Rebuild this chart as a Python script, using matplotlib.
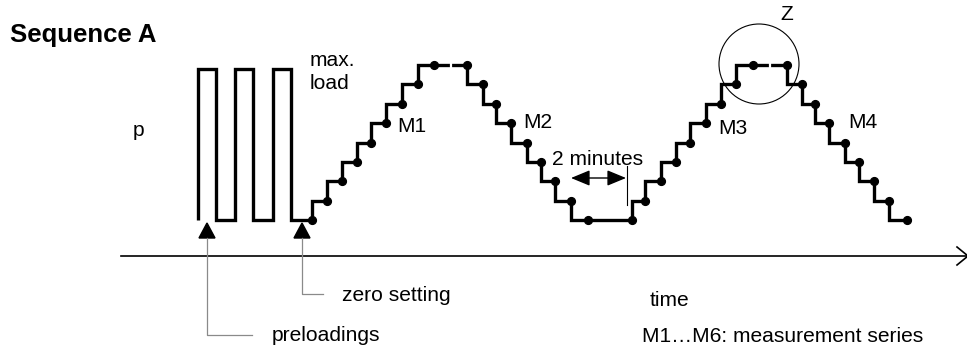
import matplotlib
matplotlib.use("Agg")
import matplotlib.pyplot as plt
from matplotlib.patches import Circle, Polygon

plt.rcParams['font.family'] = ['Liberation Sans', 'DejaVu Sans']

# ---------------- data (time in arbitrary units, load p in load steps) -------------
preload_times = [198, 198, 216, 216, 235, 235, 253, 253, 273, 273, 291, 291, 312]
preload_levels = [0, 7.8, 7.8, 0, 0, 7.8, 7.8, 0, 0, 7.8, 7.8, 0, 0]

meas_times = [312, 327, 342, 357, 371, 386, 402, 418, 434, 467,
              483, 496, 511, 527, 541, 555, 571, 588, 632,
              645, 661, 676, 690, 706, 721, 736, 753, 787,
              802, 815, 829, 845, 859, 874, 889, 907]
meas_levels = [0, 1, 2, 3, 4, 5, 6, 7, 8, 8,
               7, 6, 5, 4, 3, 2, 1, 0, 0,
               1, 2, 3, 4, 5, 6, 7, 8, 8,
               7, 6, 5, 4, 3, 2, 1, 0]

series_labels = ["M1", "M2", "M3", "M4"]

W, H = 967, 348
fig = plt.figure(figsize=(W / 100, H / 100), dpi=100)

# data axes: time vs load level
ax = fig.add_axes([0, 0, 1, 1])
ax.set_xlim(0, W)
y0_px, step_px = 220.0, 19.375
ax.set_ylim((y0_px - H) / step_px, y0_px / step_px)
ax.axis('off')

# decoration axes in pixel coordinates
deco = fig.add_axes([0, 0, 1, 1], facecolor='none')
deco.set_xlim(0, W)
deco.set_ylim(H, 0)
deco.axis('off')

lw_thick = 2.4
ax.plot(preload_times, preload_levels, color='black', lw=lw_thick,
        solid_joinstyle='miter', solid_capstyle='butt')
ax.plot(meas_times, meas_levels, drawstyle='steps-pre', color='black',
        lw=lw_thick, solid_joinstyle='miter', solid_capstyle='butt')
ax.plot(meas_times, meas_levels, 'o', color='black', markersize=5.6, zorder=5)

# small gaps in plateaus
for gx, gy in [(451, 66), (770, 65)]:
    deco.plot([gx, gx], [gy - 3, gy + 3], color='white', lw=1.6, zorder=10)

# time axis
deco.plot([121, 967], [256, 256], color='black', lw=1.2)
deco.plot([957, 968, 957], [247, 256, 265], color='black', lw=1.2)

# Z circle
deco.add_patch(Circle((759, 64), 40, fill=False, color='black', lw=0.8))

# 2 minutes arrow
deco.annotate('', xy=(571, 178), xytext=(626, 178),
              arrowprops=dict(arrowstyle='<|-|>,head_length=0.58,head_width=0.24',
                              color='black', lw=1.0,
                              mutation_scale=20, shrinkA=0, shrinkB=0))
deco.plot([627, 627], [166, 205], color='black', lw=0.8)

# leader arrows
lead_col = '#8a8a8a'
for tip_x, end_y, end_x in [(207, 335, 252), (302, 294, 323)]:
    deco.add_patch(Polygon([(tip_x, 223), (tip_x - 8, 238), (tip_x + 8, 238)],
                           closed=True, color='black'))
    deco.plot([tip_x, tip_x, end_x], [238, end_y, end_y], color=lead_col, lw=0.9)

fs = 15.1
deco.text(10, 42, "Sequence A", fontsize=18.5, fontweight='bold', va='baseline')
deco.text(133, 136, "p", fontsize=fs, va='baseline')
deco.text(310, 66, "max.", fontsize=fs, va='baseline')
deco.text(310, 89, "load", fontsize=fs, va='baseline')
for lab, (tx, ty) in zip(series_labels, [(397, 132), (523, 128), (718, 134), (848, 128)]):
    deco.text(tx, ty, lab, fontsize=fs, va='baseline')
deco.text(552, 165, "2 minutes", fontsize=fs, va='baseline')
deco.text(780, 20, "Z", fontsize=fs, va='baseline')
deco.text(342, 301, "zero setting", fontsize=fs, va='baseline')
deco.text(650, 306, "time", fontsize=fs, va='baseline')
deco.text(272, 341, "preloadings", fontsize=fs, va='baseline')
deco.text(642, 342, "M1\u2026M6: measurement series", fontsize=fs, va='baseline')

fig.savefig("out.png", dpi=100)
